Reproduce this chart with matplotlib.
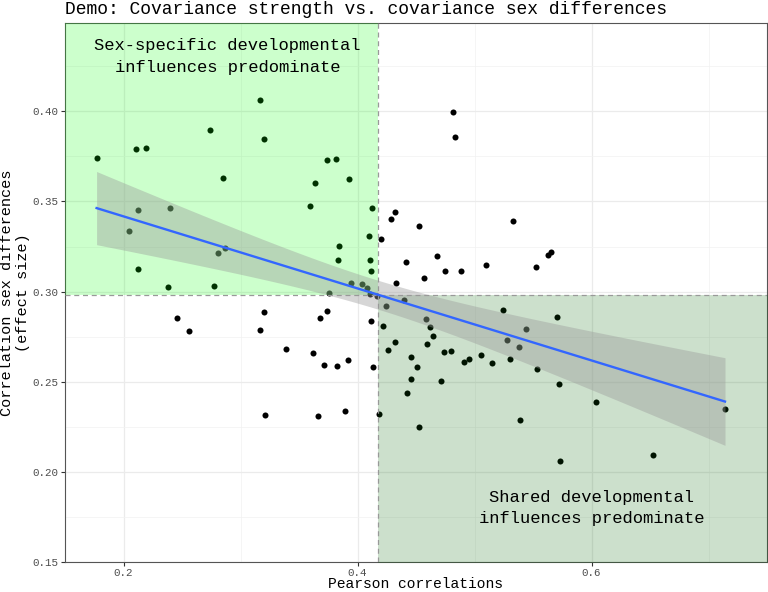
import numpy as np
import matplotlib
matplotlib.use("Agg")
from matplotlib import pyplot as plt

# Pearson correlations (x) and correlation sex differences (y)
pearson = [
    0.177, 0.2105, 0.219, 0.274, 0.317, 0.3205, 0.2854, 0.374, 0.3813, 0.3634,
    0.3924, 0.359, 0.412, 0.2122, 0.240, 0.2043, 0.4198, 0.4095, 0.3845, 0.3836,
    0.4103, 0.4115, 0.2125, 0.2809, 0.2865, 0.2382, 0.2771, 0.3947, 0.4038, 0.4078,
    0.3753, 0.411, 0.4163, 0.4243, 0.4286, 0.432, 0.482, 0.4833, 0.4522, 0.5333,
    0.4417, 0.4679, 0.4744, 0.4884, 0.5097, 0.5524, 0.5627, 0.5652, 0.4565, 0.4329,
    0.440, 0.2461, 0.2558, 0.3204, 0.3164, 0.3736, 0.3682, 0.4112, 0.422, 0.3386,
    0.3623, 0.3714, 0.3825, 0.3919, 0.4135, 0.4263, 0.321, 0.3663, 0.3896, 0.418,
    0.4323, 0.4585, 0.4619, 0.4647, 0.4596, 0.4739, 0.4801, 0.4453, 0.4508, 0.4458,
    0.4423, 0.4714, 0.4522, 0.4909, 0.4955, 0.5057, 0.5146, 0.5245, 0.5439, 0.5282,
    0.5379, 0.5302, 0.5701, 0.5533, 0.5723, 0.5393, 0.6036, 0.5732, 0.6526, 0.7141,
]
sex_diff = [
    0.374, 0.379, 0.3796, 0.3897, 0.4065, 0.3845, 0.3629, 0.373, 0.3733, 0.3605,
    0.3625, 0.3476, 0.3466, 0.3452, 0.3465, 0.3336, 0.329, 0.3306, 0.3251, 0.3178,
    0.3176, 0.3117, 0.3128, 0.3213, 0.324, 0.3027, 0.303, 0.3047, 0.3041, 0.3022,
    0.2992, 0.2986, 0.2973, 0.292, 0.3402, 0.3439, 0.3996, 0.386, 0.3364, 0.3391,
    0.3165, 0.3196, 0.3115, 0.3115, 0.3145, 0.3135, 0.3204, 0.3222, 0.3078, 0.3047,
    0.2955, 0.2852, 0.2779, 0.2887, 0.2786, 0.2895, 0.2854, 0.2839, 0.281, 0.2683,
    0.2661, 0.2591, 0.2585, 0.2619, 0.2582, 0.2675, 0.2318, 0.2311, 0.2339, 0.2322,
    0.2723, 0.2847, 0.2802, 0.2754, 0.2709, 0.2663, 0.2668, 0.2638, 0.2583, 0.2517,
    0.2437, 0.2504, 0.2251, 0.2611, 0.2628, 0.2646, 0.2604, 0.2896, 0.2793, 0.2729,
    0.2694, 0.2626, 0.2858, 0.2569, 0.2486, 0.2288, 0.2387, 0.2063, 0.2094, 0.235,
]
x_ticks = [0.2, 0.4, 0.6]
y_ticks = [0.15, 0.20, 0.25, 0.30, 0.35, 0.40]

x = np.array(pearson)
y = np.array(sex_diff)
x_mean, y_mean = x.mean(), y.mean()

# linear fit with 95% confidence band (like geom_smooth(method = "lm"))
n = len(x)
slope, intercept = np.polyfit(x, y, 1)
resid = y - (slope * x + intercept)
s = np.sqrt(np.sum(resid ** 2) / (n - 2))
sxx = np.sum((x - x_mean) ** 2)
xs = np.linspace(x.min(), x.max(), 100)
ys = slope * xs + intercept
t_crit = 1.986  # t(0.975, df ~ 98)
se = s * np.sqrt(1 / n + (xs - x_mean) ** 2 / sxx)

plt.rcParams['font.family'] = ['Liberation Mono', 'DejaVu Sans Mono']

fig = plt.figure(figsize=(7.68, 5.92), dpi=100)
ax = fig.add_axes([65 / 768, 30 / 592, 702 / 768, 539 / 592])

ax.scatter(x, y, s=19, color='black', linewidths=0, zorder=2)

# quadrant shading, drawn over the points
ax.fill_between([0.0, x_mean], y_mean, 1.0, color=(0, 1, 0), alpha=0.2, lw=0, zorder=3)
ax.fill_between([x_mean, 1.0], 0.0, y_mean, color=(0, 100 / 255, 0), alpha=0.2, lw=0, zorder=3)
ax.axvline(x_mean, color='#999999', ls=(0, (4, 3)), lw=0.9, zorder=3)
ax.axhline(y_mean, color='#999999', ls=(0, (4, 3)), lw=0.9, zorder=3)

ax.fill_between(xs, ys - t_crit * se, ys + t_crit * se, color='#999999', alpha=0.4, lw=0, zorder=4)
ax.plot(xs, ys, color='#3366FF', lw=1.7, zorder=5)

ax.text(0.289, 0.4305, 'Sex-specific developmental\ninfluences predominate', ha='center', va='center',
        fontsize=12.3, linespacing=1.55, zorder=6)
ax.text(0.6, 0.18, 'Shared developmental\ninfluences predominate', ha='center', va='center',
        fontsize=12.3, linespacing=1.55, zorder=6)

ax.set_xlim(0.15, 0.75)
ax.set_ylim(0.15, 0.449)
ax.set_xticks(x_ticks)
ax.set_xticklabels([f'{v:.1f}' for v in x_ticks])
ax.set_yticks(y_ticks)
ax.set_yticklabels([f'{v:.2f}' for v in y_ticks])
ax.set_xticks([0.3, 0.5, 0.7], minor=True)
ax.set_yticks([0.175, 0.225, 0.275, 0.325, 0.375, 0.425], minor=True)
ax.tick_params(which='major', length=3, width=0.8, color='#333333', labelsize=7.8,
               labelcolor='#4D4D4D', pad=1.5)
ax.tick_params(axis='x', which='major', pad=1)
ax.tick_params(which='minor', length=0)
ax.grid(which='major', color='#EBEBEB', lw=0.9, zorder=0)
ax.grid(which='minor', color='#F2F2F2', lw=0.5, zorder=0)
ax.set_axisbelow(True)
for sp in ax.spines.values():
    sp.set_color('#555555')
    sp.set_linewidth(0.8)

fig.text(65 / 768, 1 - 10 / 592, 'Demo: Covariance strength vs. covariance sex differences',
         ha='left', va='center', fontsize=13)
fig.text(416 / 768, 1 - 591 / 592, 'Pearson correlations', ha='center', va='bottom', fontsize=10.5)
fig.text(15 / 768, 1 - 293 / 592, 'Correlation sex differences\n(effect size)', ha='center',
         va='center', rotation=90, fontsize=11, linespacing=1.1)

fig.savefig('out.png', dpi=100)
